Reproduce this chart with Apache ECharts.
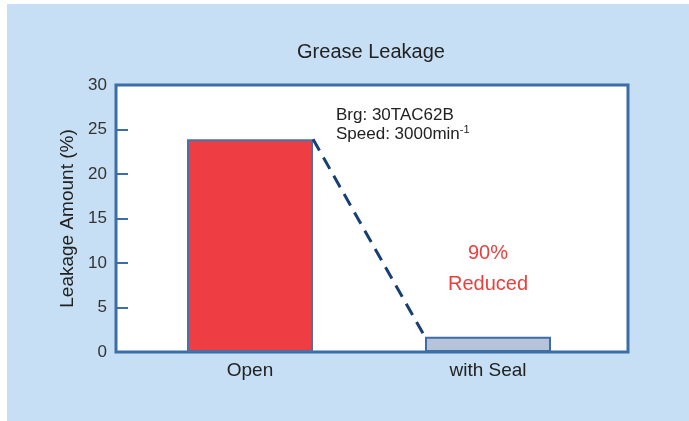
<!DOCTYPE html>
<html>
<head>
<meta charset="utf-8">
<script src="https://cdn.jsdelivr.net/npm/echarts@6/dist/echarts.min.js"></script>
<style>html,body{margin:0;padding:0;background:#fff;}#c{width:689px;height:421px;}</style>
</head>
<body>
<div id="c"></div>
<script>
var categories = ['Open', 'with Seal'];
var leakage = [23.9, 1.7];
var yTicks = [0, 5, 10, 15, 20, 25, 30];
var titleText = 'Grease Leakage';
var yName = 'Leakage Amount (%)';
var noteLines = ['Brg: 30TAC62B', 'Speed: 3000min'];
var reductionLines = ['90%', 'Reduced'];

var chart = echarts.init(document.getElementById('c'));
var FONT = 'Liberation Sans, Arial, sans-serif';
var frameColor = '#3b6ea6';
var barHalf = 0.265; // half bar width in category units

chart.setOption({
  animation: false,
  backgroundColor: '#ffffff',
  graphic: [
    {type: 'rect', z: -10, shape: {x: 7, y: 4, width: 682, height: 417}, style: {fill: '#c7dff4'}},
    {type: 'text', x: 371, y: 52, style: {text: titleText, font: '20px ' + FONT, fill: '#222', align: 'center', verticalAlign: 'middle'}},
    {type: 'text', x: 336, y: 115, style: {text: noteLines[0], font: '17px ' + FONT, fill: '#222', verticalAlign: 'middle'}},
    {type: 'text', x: 336, y: 134, style: {
      text: '{a|' + noteLines[1] + '}{s|-1}', fill: '#222', verticalAlign: 'middle',
      rich: {a: {fontSize: 17, fontFamily: FONT, color: '#222'}, s: {fontSize: 11, fontFamily: FONT, color: '#222', verticalAlign: 'top', padding: [0,0,9,0]}}
    }},
    {type: 'text', x: 488, y: 253, style: {text: reductionLines[0], font: '20px ' + FONT, fill: '#e8403f', align: 'center', verticalAlign: 'middle'}},
    {type: 'text', x: 488, y: 284, style: {text: reductionLines[1], font: '20px ' + FONT, fill: '#e8403f', align: 'center', verticalAlign: 'middle'}}
  ],
  grid: [
    {left: 116, top: 85, width: 512, height: 267, show: true, backgroundColor: '#fff', borderColor: frameColor, borderWidth: 3, z: 0},
    {left: 131, top: 85, width: 476, height: 267, show: false}
  ],
  xAxis: [
    {gridIndex: 0, type: 'category', data: ['a'], show: false},
    {gridIndex: 1, type: 'category', data: categories,
      axisLine: {show: false}, axisTick: {show: false},
      axisLabel: {fontFamily: FONT, fontSize: 19, color: '#222', margin: 9}},
    {gridIndex: 1, type: 'value', min: -0.5, max: 1.5, show: false}
  ],
  yAxis: [
    {gridIndex: 0, type: 'value', min: 0, max: 30, interval: 5,
      name: yName, nameLocation: 'middle', nameGap: 39,
      nameTextStyle: {fontFamily: FONT, fontSize: 19, color: '#222'},
      axisLine: {show: false}, splitLine: {show: false},
      axisTick: {show: true, inside: true, length: 12, lineStyle: {color: frameColor, width: 2}},
      axisLabel: {fontFamily: FONT, fontSize: 17, color: '#333', margin: 9}},
    {gridIndex: 1, type: 'value', min: 0, max: 30, show: false}
  ],
  series: [
    {type: 'bar', xAxisIndex: 1, yAxisIndex: 1, barWidth: 126, z: 3,
      data: [
        {value: leakage[0], itemStyle: {color: '#ee3e44', borderColor: '#4a72a8', borderWidth: 2}},
        {value: leakage[1], itemStyle: {color: '#b7c3d8', borderColor: '#3d6ea8', borderWidth: 2}}
      ]},
    {type: 'line', xAxisIndex: 2, yAxisIndex: 1, z: 4, symbol: 'none',
      lineStyle: {color: '#173f73', width: 3, type: [13, 8]},
      data: [[0 + barHalf, leakage[0]], [1 - barHalf, leakage[1]]]}
  ]
});
</script>
</body>
</html>
